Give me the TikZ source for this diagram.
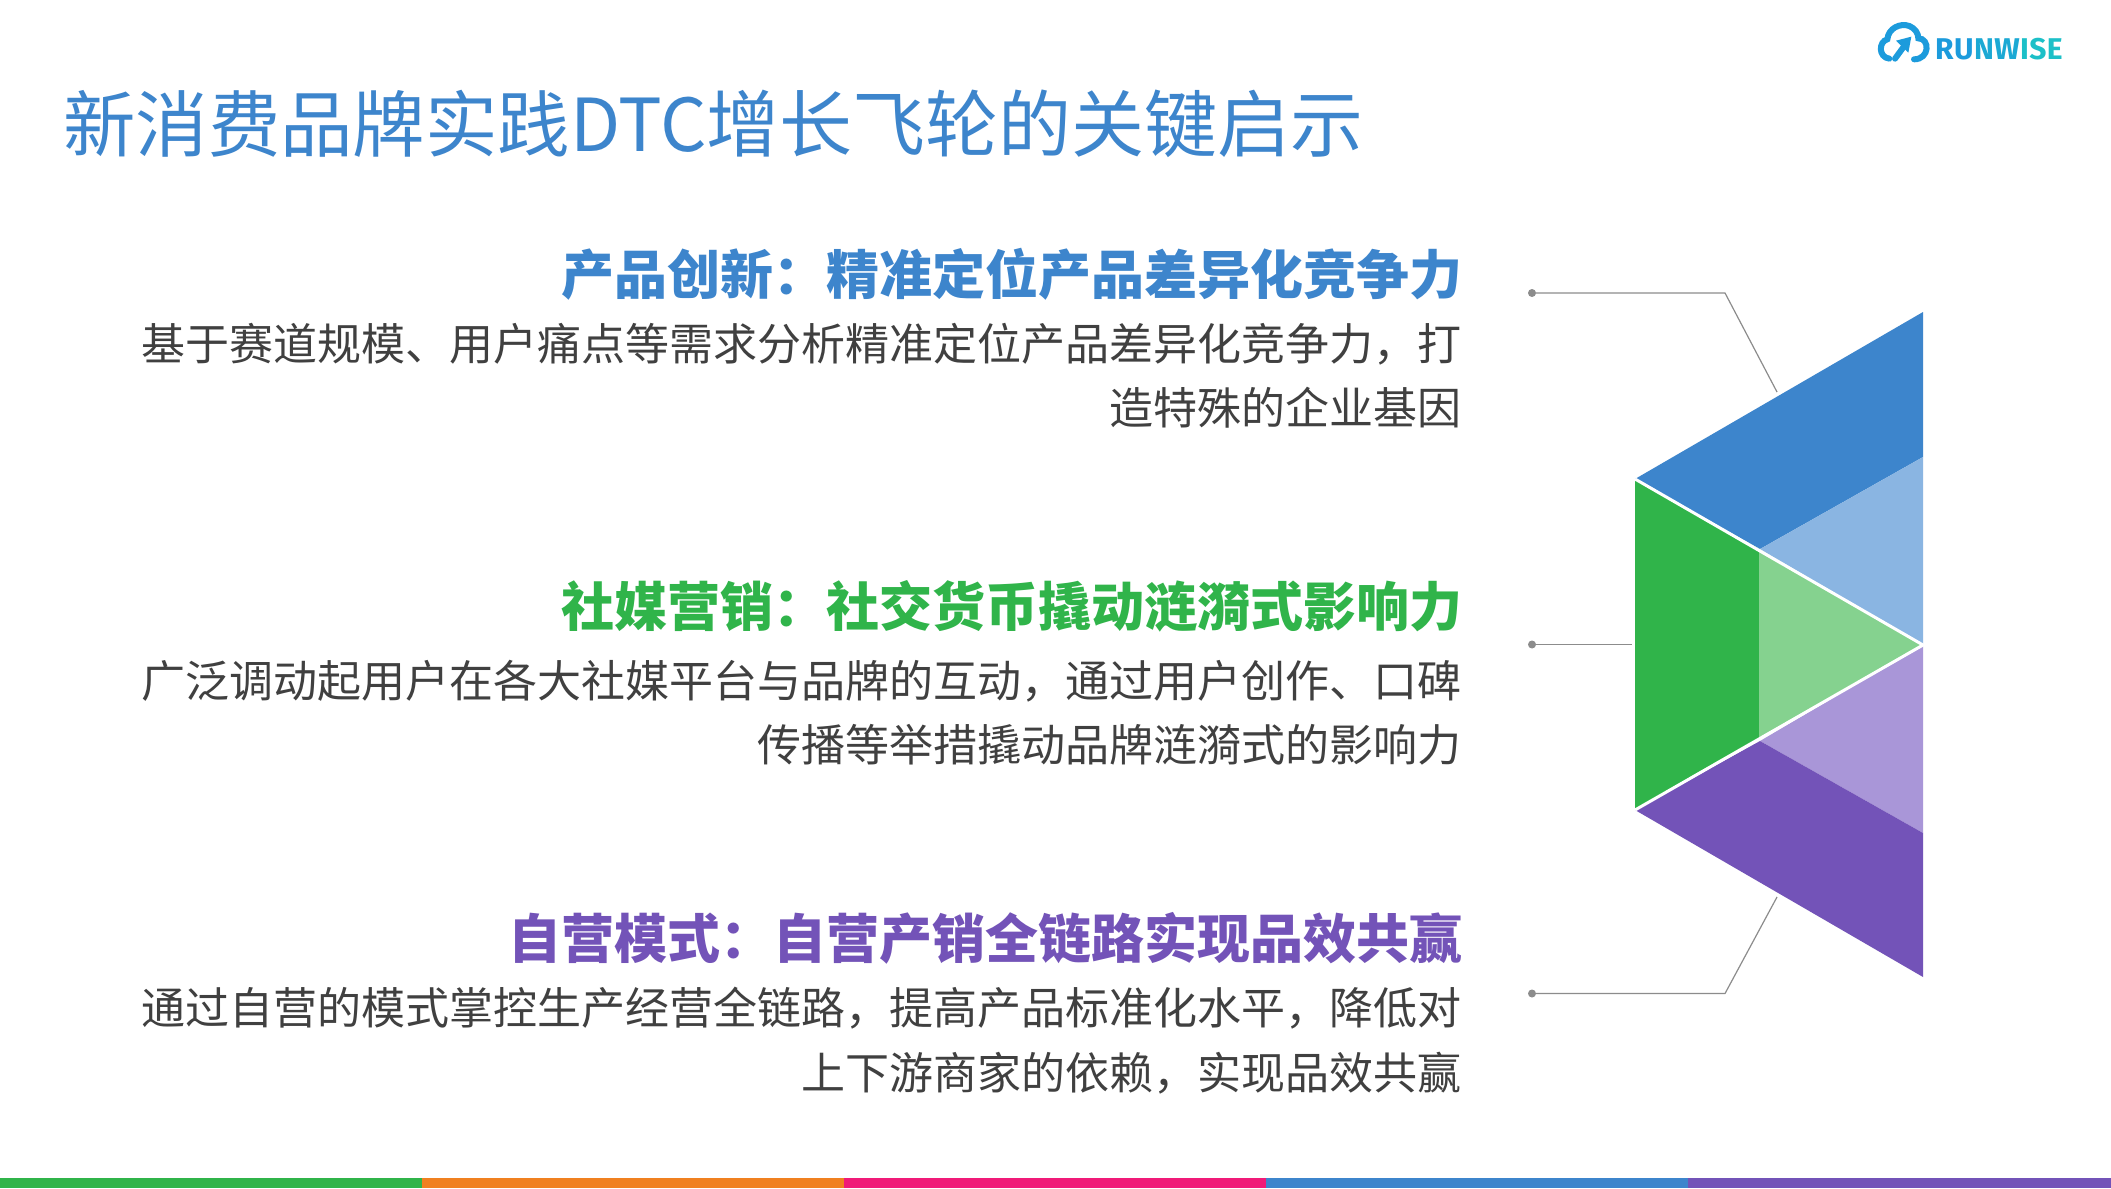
\documentclass[tikz,border=0pt]{standalone}
\usepackage{fontspec}
\setmainfont{Noto Sans CJK SC}
\newfontfamily\logofont{Fira Sans}
\definecolor{cblue}{HTML}{3D85CC}
\definecolor{cgreen}{HTML}{30B44A}
\definecolor{cpurple}{HTML}{7353B8}
\definecolor{lblue}{HTML}{8AB5E2}
\definecolor{lgreen}{HTML}{85D28F}
\definecolor{lpurple}{HTML}{A996D8}
\definecolor{corange}{HTML}{F08020}
\definecolor{cpink}{HTML}{F01A78}
\definecolor{bodytext}{HTML}{404040}
\definecolor{lineg}{HTML}{8C8C8C}
\definecolor{logoA}{HTML}{1C9BDC}
\definecolor{logoB}{HTML}{1CA9D4}
\definecolor{logoC}{HTML}{1CC0C8}
\tikzset{
  x=1pt,y=-1pt,
  headtext/.style={anchor=east,inner sep=0pt,font=\fontsize{53}{60}\selectfont\bfseries},
  bodyline/.style={anchor=east,inner sep=0pt,text=bodytext,font=\fontsize{44}{50}\selectfont},
  titletext/.style={anchor=west,inner sep=0pt,text=cblue,font=\fontsize{72.4}{80}\selectfont},
  dotnode/.style={circle,fill=lineg,inner sep=0pt,minimum size=8pt},
  leader/.style={draw=lineg,line width=1.2pt},
  logoline/.style={draw=logoA,line width=6pt,line cap=round},
  logoletter/.style={inner sep=0pt,anchor=base west,font=\logofont\fontsize{30}{30}\selectfont\bfseries}
}
\begin{document}
\begin{tikzpicture}
\useasboundingbox (0,0) rectangle (2111,1188);
\fill[white] (0,0) rectangle (2111,1188);
% colour bar
\fill[cgreen] (0,1178) rectangle (421.5,1188);
\fill[corange] (421.5,1178) rectangle (844,1188);
\fill[cpink] (844,1178) rectangle (1266,1188);
\fill[cblue] (1266,1178) rectangle (1688,1188);
\fill[cpurple] (1688,1178) rectangle (2111,1188);
% title
\node[titletext] (title) at (63,124) {新消费品牌实践{\fontsize{73}{80}\selectfont DTC增长飞轮的关键启示}};
% texts
\node[headtext,text=cblue] (h1) at (1463,274) {产品创新：精准定位产品差异化竞争力};
\node[bodyline] (b1a) at (1462,344) {基于赛道规模、用户痛点等需求分析精准定位产品差异化竞争力，打};
\node[bodyline] (b1b) at (1462,408) {造特殊的企业基因};
\node[headtext,text=cgreen] (h2) at (1463,606) {社媒营销：社交货币撬动涟漪式影响力};
\node[bodyline] (b2a) at (1462,681) {广泛调动起用户在各大社媒平台与品牌的互动，通过用户创作、口碑};
\node[bodyline] (b2b) at (1462,745) {传播等举措撬动品牌涟漪式的影响力};
\node[headtext,text=cpurple] (h3) at (1463,938) {自营模式：自营产销全链路实现品效共赢};
\node[bodyline] (b3a) at (1462,1008) {通过自营的模式掌控生产经营全链路，提高产品标准化水平，降低对};
\node[bodyline] (b3b) at (1462,1073) {上下游商家的依赖，实现品效共赢};
% prism
\fill[cblue] (1635,479) -- (1923,312) -- (1923,457) -- (1760,549) -- cycle;
\fill[lblue] (1760,549) -- (1923,457) -- (1923,645) -- cycle;
\fill[cgreen] (1635,479) -- (1759,549) -- (1759,739) -- (1635,810) -- cycle;
\fill[lgreen] (1759,549) -- (1923,645) -- (1759,739) -- cycle;
\fill[lpurple] (1760,741) -- (1923,645) -- (1923,833) -- cycle;
\fill[cpurple] (1635,810) -- (1760,741) -- (1923,833) -- (1923,977) -- cycle;
\draw[white,line width=3pt] (1635,479) -- (1923,645) -- (1635,810);
% leaders
\node[dotnode] (d1) at (1532,293) {};
\node[dotnode] (d2) at (1532,644.5) {};
\node[dotnode] (d3) at (1532,993.5) {};
\coordinate (k1) at (1725,293);
\coordinate (e1) at (1777,392);
\coordinate (e2) at (1632,644.5);
\coordinate (k3) at (1725,993.5);
\coordinate (e3) at (1777,897);
\draw[leader] (d1) -- (k1) -- (e1);
\draw[leader] (d2) -- (e2);
\draw[leader] (d3) -- (k3) -- (e3);
% logo
\begin{scope}[shift={(1850,0)},x=0.3333pt,y=-0.3333pt]
\draw[logoline] (118,176) .. controls (85,172) and (85,125) .. (112,118)
  .. controls (115,85) and (150,68) .. (178,78)
  .. controls (195,85) and (205,100) .. (205,115)
  .. controls (240,115) and (240,178) .. (192,178);
\draw[logoline] (135,176) -- (165,135);
\fill[logoA] (184,110) -- (138,122) -- (175,158) -- cycle;
\end{scope}
\node[logoletter,text=logoA] (L1) at (1935,60) {R};
\node[logoletter,text=logoA] (L2) at (L1.base east) {U};
\node[logoletter,text=logoB] (L3) at (L2.base east) {N};
\node[logoletter,text=logoB] (L4) at (L3.base east) {W};
\node[logoletter,text=logoC] (L5) at (L4.base east) {I};
\node[logoletter,text=logoC] (L6) at (L5.base east) {S};
\node[logoletter,text=logoC] (L7) at (L6.base east) {E};
\end{tikzpicture}
\end{document}
